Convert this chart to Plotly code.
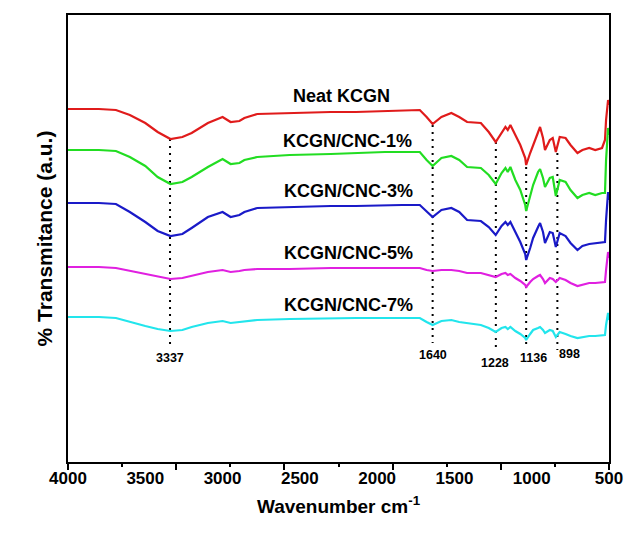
import plotly.graph_objects as go

# Wavenumbers (cm^-1) sampled along the spectra
wavenumber = [4000, 3800, 3690, 3600, 3500, 3420, 3337, 3260, 3200, 3095, 3000, 2948, 2891, 2859,
              2776, 2566, 2300, 2138, 1950, 1840, 1724, 1680, 1641, 1584, 1520, 1469, 1418, 1329,
              1278, 1233, 1195, 1170, 1155, 1138, 1106, 1074, 1042, 1036, 1010, 991, 959, 946,
              927, 914, 883, 864, 844, 819, 781, 749, 704, 672, 628, 589, 545, 526, 519, 506, 500]

# Transmittance (a.u., offset stacked)
neat_kcgn = [356, 356, 355, 350, 342, 333, 326, 328, 332, 342, 348, 343, 344, 347, 351, 352, 353, 353,
             354, 355, 355, 348, 341, 348, 352, 348, 343, 342, 333, 323, 332, 338, 335, 340, 330, 320,
             307, 300, 312, 320, 332, 338, 327, 315, 325, 327, 313, 328, 327, 320, 312, 315, 317, 315,
             317, 325, 345, 365, 360]
cnc_1 = [315, 315, 314, 308, 299, 288, 281, 283, 288, 298, 306, 301, 302, 305, 308, 310, 311, 312,
         313, 313, 313, 305, 299, 307, 309, 305, 298, 297, 290, 281, 292, 297, 293, 298, 285, 275,
         260, 254, 270, 280, 293, 296, 287, 278, 287, 288, 269, 285, 283, 275, 267, 270, 272, 270,
         272, 272, 305, 337, 330]
cnc_3 = [262, 262, 261, 253, 243, 234, 229, 231, 237, 248, 253, 248, 250, 253, 257, 258, 259, 259,
         260, 260, 260, 254, 248, 255, 257, 253, 245, 244, 238, 230, 239, 243, 240, 243, 233, 223,
         211, 205, 217, 227, 238, 242, 233, 222, 233, 232, 218, 232, 229, 222, 215, 219, 221, 222,
         223, 223, 245, 273, 265]
cnc_5 = [198, 198, 197, 194, 191, 188, 186, 187, 189, 193, 195, 193, 194, 195, 196, 196, 197, 197,
         197, 197, 197, 195, 194, 195, 195, 194, 192, 192, 190, 188, 191, 192, 190, 191, 187, 184,
         180, 178, 183, 186, 189, 190, 186, 182, 187, 186, 183, 187, 185, 182, 179, 180, 182, 182,
         183, 183, 195, 213, 207]
cnc_7 = [148, 148, 147, 143, 139, 136, 134, 135, 138, 142, 144, 142, 143, 144, 145, 146, 147, 147,
         147, 147, 147, 143, 140, 144, 145, 143, 142, 140, 137, 133, 137, 138, 136, 138, 134, 131,
         127, 125, 131, 135, 137, 138, 135, 132, 135, 134, 128, 133, 131, 129, 127, 128, 129, 129,
         130, 130, 140, 152, 145]

series_names = ["Neat KCGN", "KCGN/CNC-1%", "KCGN/CNC-3%", "KCGN/CNC-5%", "KCGN/CNC-7%"]
series_values = [neat_kcgn, cnc_1, cnc_3, cnc_5, cnc_7]
series_colors = ["#e01b1b", "#22dd22", "#1a1ac8", "#e020e0", "#22e5ec"]
label_y = [369, 324, 274, 212, 160]
label_x = [2230, 2190, 2185, 2185, 2185]

# Peak markers
peak_labels = ["3337", "1640", "1228", "1136", "898"]
peak_pos = [3340, 1641, 1232, 1036, 834]
peak_top = [326, 340, 323, 298, 312]
peak_bottom = [118, 122, 118, 120, 115]
peak_label_x = [3337, 1641, 1240, 991, 755]
peak_label_y = [107, 110, 102, 107, 111]

x_labels = [4000, 3500, 3000, 2500, 2000, 1500, 1000, 500]
x_major_ticks = [4000, 3300, 2600, 1900, 1200, 500]
x_minor_ticks = [3650, 2950, 2250, 1550, 850]

FONT = "Liberation Sans"

fig = go.Figure()

for pos, top, bot in zip(peak_pos, peak_top, peak_bottom):
    fig.add_trace(go.Scatter(x=[pos, pos], y=[top, bot], mode="lines",
                             line=dict(color="black", width=2, dash="2px,5px"),
                             showlegend=False, hoverinfo="skip"))

for name, vals, col in zip(series_names, series_values, series_colors):
    fig.add_trace(go.Scatter(x=wavenumber, y=vals, mode="lines", name=name,
                             line=dict(color=col, width=2.2), showlegend=False))

# helper trace for tick axis
fig.add_trace(go.Scatter(x=[4000, 500], y=[None, None], xaxis="x2", mode="lines",
                         showlegend=False, hoverinfo="skip"))

for name, x, y in zip(series_names, label_x, label_y):
    fig.add_annotation(x=x, y=y, text=f"<b>{name}</b>", showarrow=False,
                       font=dict(family=FONT, size=18, color="black"))

for lab, lx, ly in zip(peak_labels, peak_label_x, peak_label_y):
    fig.add_annotation(x=lx, y=ly, text=f"<b>{lab}</b>", showarrow=False,
                       font=dict(family=FONT, size=12.5, color="black"))

fig.update_layout(
    width=635, height=537,
    margin=dict(l=68, r=18, t=15, b=75),
    plot_bgcolor="white", paper_bgcolor="white",
    font=dict(family=FONT, color="black"),
    xaxis=dict(range=[4000, 500], tickvals=x_labels, ticks="",
               tickfont=dict(size=17, family=FONT),
               ticktext=[f"<b>{v}</b>" for v in x_labels],
               showgrid=False, zeroline=False, showline=True, mirror=True,
               linecolor="black", linewidth=2,
               title=dict(text="<b>Wavenumber cm<sup>-1</sup></b>", font=dict(size=19), standoff=12)),
    xaxis2=dict(range=[4000, 500], overlaying="x", side="bottom", tickvals=x_major_ticks,
                ticks="outside", ticklen=7, tickwidth=2, tickcolor="black",
                showticklabels=False, showgrid=False, zeroline=False, showline=False,
                minor=dict(tickvals=x_minor_ticks, ticks="outside", ticklen=4, tickwidth=2,
                           tickcolor="black", showgrid=False)),
    yaxis=dict(range=[3, 450], showticklabels=False, ticks="", showgrid=False, zeroline=False,
               showline=True, mirror=True, linecolor="black", linewidth=2,
               title=dict(text="<b>% Transmitance (a.u.)</b>", font=dict(size=21), standoff=8)),
)

fig.write_html("out.html")
